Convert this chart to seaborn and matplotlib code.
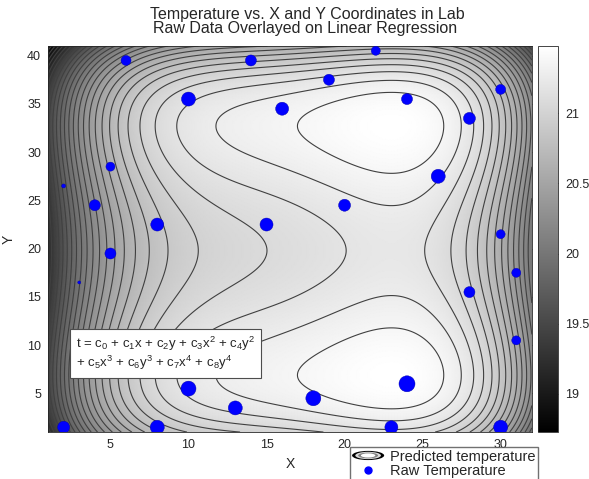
import numpy as np
import matplotlib
matplotlib.use("Agg")
import matplotlib.pyplot as plt
import matplotlib.patches as mpatches
import seaborn as sns
from matplotlib.legend_handler import HandlerBase
from matplotlib.lines import Line2D


# fitted coefficients c0..c8 of
# t = c0 + c1 x + c2 y + c3 x^2 + c4 y^2 + c5 x^3 + c6 y^3 + c7 x^4 + c8 y^4
coef = [18.509762, 0.53816857, 0.16777887, -0.04792826, -0.01896014,
        1.93503e-3, 7.43601e-4, -2.8856e-5, -9.3889e-6]

# raw sensor readings
x_raw = [6, 14, 22, 19, 30, 10, 24, 16, 28, 5, 26, 2, 4, 20, 8, 15, 30, 5,
         31, 3, 28, 31, 24, 10, 18, 13, 2, 8, 23, 30]
y_raw = [39.5, 39.5, 40.5, 37.5, 36.5, 35.5, 35.5, 34.5, 33.5, 28.5, 27.5,
         26.5, 24.5, 24.5, 22.5, 22.5, 21.5, 19.5, 17.5, 16.5, 15.5, 10.5,
         6.0, 5.5, 4.5, 3.5, 1.5, 1.5, 1.5, 1.5]
t_raw = [20.76, 20.95, 20.60, 20.95, 20.76, 21.59, 20.95, 21.36, 21.14, 20.60,
         21.59, 20.04, 20.95, 21.14, 21.36, 21.36, 20.60, 20.95, 20.60, 19.98,
         20.95, 20.60, 22.11, 21.84, 21.84, 21.59, 21.14, 21.59, 21.36, 21.59]

x_range = (1, 32)
y_range = (1, 41)
cbar_ticks = [19, 19.5, 20, 20.5, 21]


class HandlerRings(HandlerBase):
    def create_artists(self, legend, orig_handle, xdescent, ydescent,
                       width, height, fontsize, trans):
        cx = width / 2 - xdescent
        cy = height / 2 - ydescent
        rings = []
        for scale, col in [(1.0, "black"), (0.8, "0.85"), (0.62, "0.5"),
                           (0.45, "white")]:
            e = mpatches.Ellipse((cx, cy), width * scale,
                                 height * 0.9 * scale,
                                 facecolor=col, edgecolor="none",
                                 transform=trans)
            rings.append(e)
        return rings


sns.set_style("white")
plt.rcParams["font.family"] = ["Liberation Sans", "DejaVu Sans"]
plt.rcParams["mathtext.fontset"] = "custom"
plt.rcParams["mathtext.rm"] = "Liberation Sans"
plt.rcParams["mathtext.default"] = "regular"

xs = np.linspace(x_range[0], x_range[1], 320)
ys = np.linspace(y_range[0], y_range[1], 320)
X, Y = np.meshgrid(xs, ys)
Z = (coef[0] + coef[1] * X + coef[2] * Y + coef[3] * X**2 + coef[4] * Y**2
     + coef[5] * X**3 + coef[6] * Y**3 + coef[7] * X**4 + coef[8] * Y**4)

zmin, zmax = Z.min(), Z.max()
levels = np.linspace(zmin, zmax, 29)[1:-1]

fig = plt.figure(figsize=(5.89, 4.79), dpi=100)
ax = fig.add_axes([0.0815, 0.098, 0.8215, 0.806])
cax = fig.add_axes([0.9134, 0.098, 0.034, 0.806])

mesh = ax.pcolormesh(X, Y, Z, cmap="gray", shading="gouraud",
                     vmin=zmin, vmax=zmax)
ax.contour(X, Y, Z, levels=levels, colors="0.25", linewidths=0.8,
           linestyles="solid")

sns.scatterplot(x=x_raw, y=y_raw, size=t_raw, sizes=(4.7, 133),
                color="blue", edgecolor="#0000aa", linewidth=0.3,
                legend=False, ax=ax, zorder=3)

ax.set_xlim(*x_range)
ax.set_ylim(*y_range)
ax.set_xticks([5, 10, 15, 20, 25, 30])
ax.set_yticks([5, 10, 15, 20, 25, 30, 35, 40])
ax.tick_params(direction="in", top=True, right=True, labelsize=9,
               length=3, width=0.6, color="0.3", pad=5)
ax.set_xlabel("X", fontsize=10, labelpad=4)
ax.set_ylabel("Y", fontsize=10, labelpad=8)
for spine in ax.spines.values():
    spine.set_linewidth(0.6)

fig.text(0.521, 0.969, "Temperature vs. X and Y Coordinates in Lab",
         ha="center", va="center", fontsize=11.5)
fig.text(0.518, 0.940, "Raw Data Overlayed on Linear Regression",
         ha="center", va="center", fontsize=11.5)

eq = ("t = c$_0$ + c$_1$x + c$_2$y + c$_3$x$^2$ + c$_4$y$^2$\n"
      "+ c$_5$x$^3$ + c$_6$y$^3$ + c$_7$x$^4$ + c$_8$y$^4$")
ax.text(0.058, 0.252, eq, transform=ax.transAxes, fontsize=9.5, va="top",
        ha="left", zorder=4, linespacing=1.05,
        bbox=dict(boxstyle="square,pad=0.45", facecolor="white",
                  edgecolor="0.3", linewidth=0.8))

cb = fig.colorbar(mesh, cax=cax, ticks=cbar_ticks)
cb.ax.tick_params(direction="in", left=True, right=True, labelsize=9,
                  length=3, width=0.6, pad=5)
cb.ax.set_yticklabels(["19", "19.5", "20", "20.5", "21"])
cb.outline.set_linewidth(0.6)

ring_proxy = mpatches.Patch()
dot_proxy = Line2D([], [], linestyle="none", marker="o", markersize=5,
                   markerfacecolor="blue", markeredgecolor="blue")
fig.legend([ring_proxy, dot_proxy],
           ["Predicted temperature", "Raw Temperature"],
           handler_map={ring_proxy: HandlerRings()},
           loc="upper left", bbox_to_anchor=(0.594, 0.066),
           borderaxespad=0, frameon=True, fancybox=False, edgecolor="0.3",
           fontsize=10.5, handlelength=2.2, handletextpad=0.4,
           borderpad=0.15, labelspacing=0.05)

fig.savefig("out.png", dpi=100)
